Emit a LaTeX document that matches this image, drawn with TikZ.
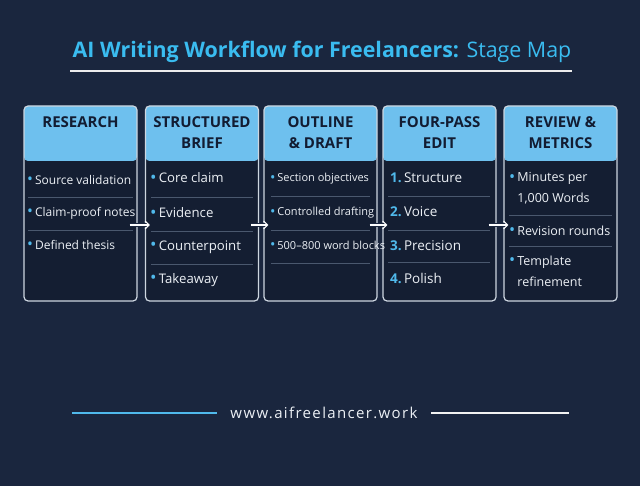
\documentclass[tikz,border=0pt]{standalone}
\usepackage{fontspec}
\setmainfont{Open Sans}
\usepackage{tikz}
\usetikzlibrary{calc,arrows.meta,positioning}

\definecolor{bgnavy}{RGB}{26,38,62}
\definecolor{bodynavy}{RGB}{20,30,50}
\definecolor{headblue}{RGB}{110,192,238}
\definecolor{titleblue}{RGB}{58,188,240}
\definecolor{headtext}{RGB}{18,28,50}
\definecolor{rimgray}{RGB}{205,214,224}
\definecolor{sepgray}{RGB}{74,88,110}
\definecolor{dotblue}{RGB}{80,185,235}
\definecolor{itemwhite}{RGB}{236,240,245}

\newcommand{\bul}{\textcolor{dotblue}{\raisebox{-0.05ex}{\scalebox{1.3}{•}}}\,}
\newcommand{\num}[1]{\textcolor{dotblue}{\textbf{#1.}}\,}

\begin{document}
\begin{tikzpicture}[x=1pt,y=-1pt]
    % --- Styles ---
    \tikzset{
      stagebox/.style={draw=rimgray, line width=1.2pt, fill=bodynavy, rounded corners=4pt,
        minimum width=113pt, minimum height=195pt, inner sep=0pt,
        path picture={\fill[headblue] (path picture bounding box.north west)
          rectangle ([yshift=-55pt]path picture bounding box.north east);}},
      stagehead/.style={font=\fontsize{15}{21}\selectfont\bfseries, text=headtext, align=center},
      item/.style={font=\fontsize{12}{21}\selectfont, text=itemwhite, anchor=west, inner sep=0pt, align=left},
      smallitem/.style={item, font=\fontsize{11}{20}\selectfont},
      bigitem/.style={item, font=\fontsize{13.2}{21}\selectfont},
      sepline/.style={draw=sepgray, line width=0.6pt},
      flowarrow/.style={draw=white, line width=1.1pt, -{Straight Barb[length=4pt,width=8pt]},
        preaction={draw=bgnavy, line width=4pt, -}}
    }

    % --- background and frame ---
    \fill[bgnavy] (0,0) rectangle (640,486);
    \useasboundingbox (0,0) rectangle (640,486);

    % --- 1. Title ---
    \node[font=\fontsize{21.4}{24}\selectfont, text=titleblue] (title) at (322,52)
      {\textbf{AI Writing Workflow for Freelancers:} Stage Map};
    \coordinate (ruleL) at (70,71);
    \coordinate (ruleR) at (572,71);
    \draw[white!85!gray, line width=1.3pt] (ruleL) -- (ruleR);

    % --- 2. Stage boxes ---
    \node[stagebox] (b1) at (80.5,203.5) {};
    \node[stagebox] (b2) at (202,203.5) {};
    \node[stagebox] (b3) at (320.5,203.5) {};
    \node[stagebox] (b4) at (439.5,203.5) {};
    \node[stagebox] (b5) at (560.5,203.5) {};

    % headers
    \node[stagehead] (h1) at (80.5,122) {RESEARCH};
    \node[stagehead] (h2) at (202,132.5) {STRUCTURED\\BRIEF};
    \node[stagehead] (h3) at (320.5,132.5) {OUTLINE\\\& DRAFT};
    \node[stagehead] (h4) at (439.5,132.5) {FOUR-PASS\\EDIT};
    \node[stagehead] (h5) at (560.5,132.5) {REVIEW \&\\METRICS};

    % --- 3. Items ---
    % Research
    \node[item] (r1) at (27,180) {\bul Source validation};
    \node[item] (r2) at (27,213) {\bul Claim-proof notes};
    \node[item] (r3) at (27,245) {\bul Defined thesis};
    \draw[sepline] (28,197) -- (133,197);
    \draw[sepline] (28,230) -- (133,230);

    % Structured brief
    \node[bigitem] (s1) at (150,178) {\bul Core claim};
    \node[bigitem] (s2) at (150,213) {\bul Evidence};
    \node[bigitem] (s3) at (150,247) {\bul Counterpoint};
    \node[bigitem] (s4) at (150,280) {\bul Takeaway};
    \draw[sepline] (151,197) -- (253,197);
    \draw[sepline] (151,231) -- (253,231);
    \draw[sepline] (151,264) -- (253,264);

    % Outline & draft
    \node[smallitem] (o1) at (270,179) {\bul Section objectives};
    \node[smallitem] (o2) at (270,213) {\bul Controlled drafting};
    \node[smallitem] (o3) at (270,245) {\bul 500--800 word blocks};
    \draw[sepline] (271,196) -- (370,196);
    \draw[sepline] (271,230) -- (370,230);
    \draw[sepline] (271,263) -- (370,263);

    % Four-pass edit
    \node[bigitem, font=\fontsize{13.5}{21}\selectfont] (e1) at (390,178) {\num{1}Structure};
    \node[bigitem, font=\fontsize{13.5}{21}\selectfont] (e2) at (390,212) {\num{2}Voice};
    \node[bigitem, font=\fontsize{13.5}{21}\selectfont] (e3) at (390,246) {\num{3}Precision};
    \node[bigitem, font=\fontsize{13.5}{21}\selectfont] (e4) at (390,278) {\num{4}Polish};
    \draw[sepline] (388,196) -- (490,196);
    \draw[sepline] (388,230) -- (490,230);
    \draw[sepline] (388,262) -- (490,262);

    % Review & metrics
    \node[item, font=\fontsize{12.5}{21}\selectfont] (m1) at (509,188.5) {\bul Minutes per\\\phantom{\bul}1,000 Words};
    \node[item, font=\fontsize{12.5}{21}\selectfont] (m2) at (509,231) {\bul Revision rounds};
    \node[item, font=\fontsize{12.5}{21}\selectfont] (m3) at (509,271.5) {\bul Template\\\phantom{\bul}refinement};
    \draw[sepline] (509,215) -- (612,215);
    \draw[sepline] (509,246) -- (612,246);

    % --- 4. Arrows between stages ---
    \foreach \a/\b in {b1/b2, b2/b3, b3/b4, b4/b5}
      \draw[flowarrow] ([xshift=-8pt,yshift=-21.5pt]\a.east) -- ([xshift=5pt,yshift=-21.5pt]\b.west);

    % --- 5. Footer ---
    \node[font=\fontsize{15}{16}\selectfont\addfontfeatures{LetterSpace=9}, text=itemwhite] (url) at (324,413) {www.aifreelancer.work};
    \coordinate (footL) at (72,413);
    \coordinate (footR) at (569,413);
    \draw[dotblue, line width=1.6pt] (footL) -- ([xshift=-10pt]url.west);
    \draw[white!90!gray, line width=1.4pt] ([xshift=10pt]url.east) -- (footR);
\end{tikzpicture}
\end{document}
